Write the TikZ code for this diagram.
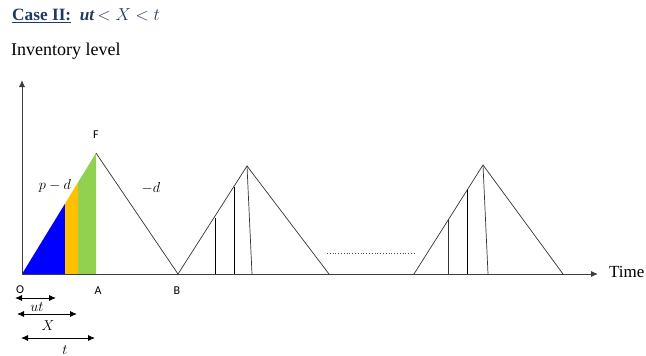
\documentclass[tikz,border=0pt]{standalone}
\usepackage{fontspec}
\setmainfont{Liberation Serif}
\newfontfamily\calib{Carlito}
\usetikzlibrary{arrows.meta}
\definecolor{navy}{RGB}{31,56,100}
\definecolor{fblue}{RGB}{0,0,255}
\definecolor{forange}{RGB}{255,192,0}
\definecolor{fgreen}{RGB}{146,208,80}
\definecolor{axisgray}{RGB}{60,60,60}
\begin{document}
\begin{tikzpicture}[x=1pt,y=-1pt,
  axisline/.style={draw=axisgray,line width=0.9pt,-{Latex[length=7pt,width=6pt]}},
  tri/.style={draw=black!80,line width=0.7pt},
  vline/.style={draw=black,line width=0.9pt},
  dim/.style={draw=black,line width=0.9pt,{Latex[length=7pt,width=6pt]}-{Latex[length=7pt,width=6pt]}},
  ptlabel/.style={font=\calib\fontsize{12}{14}\selectfont},
  mlabel/.style={font=\fontsize{14.4}{17}\selectfont},
  plain/.style={inner sep=0pt}]
\path[use as bounding box] (0,0) rectangle (646,356);
% title and axis labels
\node[anchor=west,text=navy,inner sep=0pt] (title) at (12,16)
  {\fontsize{17.28}{20}\selectfont\textbf{\underline{Case II:}}\ \ \textbf{\textit{ut}}\,$<X<t$};
\node[anchor=west,inner sep=0pt] (ylabel) at (11,51) {\fontsize{18}{21}\selectfont Inventory level};
\node[anchor=west,inner sep=0pt] (xlabel) at (609,272) {\fontsize{17}{20}\selectfont Time};
% key points
\coordinate (O) at (22,274);
\coordinate (Ytop) at (22,80);
\coordinate (Xend) at (598,274);
\coordinate (F) at (96,153);
\coordinate (B) at (178,274);
\coordinate (P1) at (65,203.7);
\coordinate (P1b) at (65,274);
\coordinate (P2) at (78,182.4);
\coordinate (P2b) at (78,274);
\coordinate (Ab) at (96,274);
% coloured areas
\fill[fblue] (O) -- (P1) -- (P1b) -- cycle;
\fill[forange] (P1b) -- (P1) -- (P2) -- (P2b) -- cycle;
\fill[fgreen] (P2b) -- (P2) -- (F) -- (Ab) -- cycle;
% axes
\draw[axisline] (O) -- (Ytop);
\draw[axisline] (O) -- (Xend);
% first cycle
\draw[tri] (F) -- (B);
% second cycle
\coordinate (C2a) at (247,166);
\coordinate (C2r) at (329,274);
\coordinate (C2v1) at (215,217.5);
\coordinate (C2v1b) at (215,274);
\coordinate (C2v2) at (234,186.5);
\coordinate (C2v2b) at (234,274);
\coordinate (C2s) at (252,274);
\draw[tri] (B) -- (C2a) -- (C2r);
\draw[vline] (C2v1) -- (C2v1b);
\draw[vline] (C2v2) -- (C2v2b);
\draw[tri] (C2a) -- (C2s);
% dotted
\coordinate (D1) at (327,253);
\coordinate (D2) at (415,253);
\draw[draw=black!70,line width=0.8pt,dotted] (D1) -- (D2);
% third cycle
\coordinate (C3l) at (414,274);
\coordinate (C3a) at (483,165);
\coordinate (C3r) at (563,274);
\coordinate (C3v1) at (448,220);
\coordinate (C3v1b) at (448,274);
\coordinate (C3v2) at (467,189.5);
\coordinate (C3v2b) at (467,274);
\coordinate (C3s) at (488,274);
\draw[tri] (C3l) -- (C3a) -- (C3r);
\draw[tri] (C3v1) -- (C3v1b);
\draw[vline] (C3v2) -- (C3v2b);
\draw[tri] (C3a) -- (C3s);
% point labels
\node[ptlabel] (lF) at (96,135) {F};
\node[ptlabel] (lO) at (20,290) {O};
\node[ptlabel] (lA) at (98,291) {A};
\node[ptlabel] (lB) at (177,291) {B};
\node[mlabel] (lpd) at (55,186) {$p-d$};
\node[mlabel] (lmd) at (151,188) {$-d$};
% dimension arrows
\coordinate (u1) at (15,298);
\coordinate (u2) at (56,298);
\coordinate (x1) at (17,314);
\coordinate (x2) at (77,314);
\coordinate (t1) at (21,338);
\coordinate (t2) at (95,338);
\draw[dim] (u1) -- (u2);
\draw[dim] (x1) -- (x2);
\draw[dim] (t1) -- (t2);
\node[mlabel] (lut) at (37,307) {$ut$};
\node[mlabel] (lX) at (48,326) {$X$};
\node[mlabel] (lt) at (65,350) {$t$};
\end{tikzpicture}
\end{document}
